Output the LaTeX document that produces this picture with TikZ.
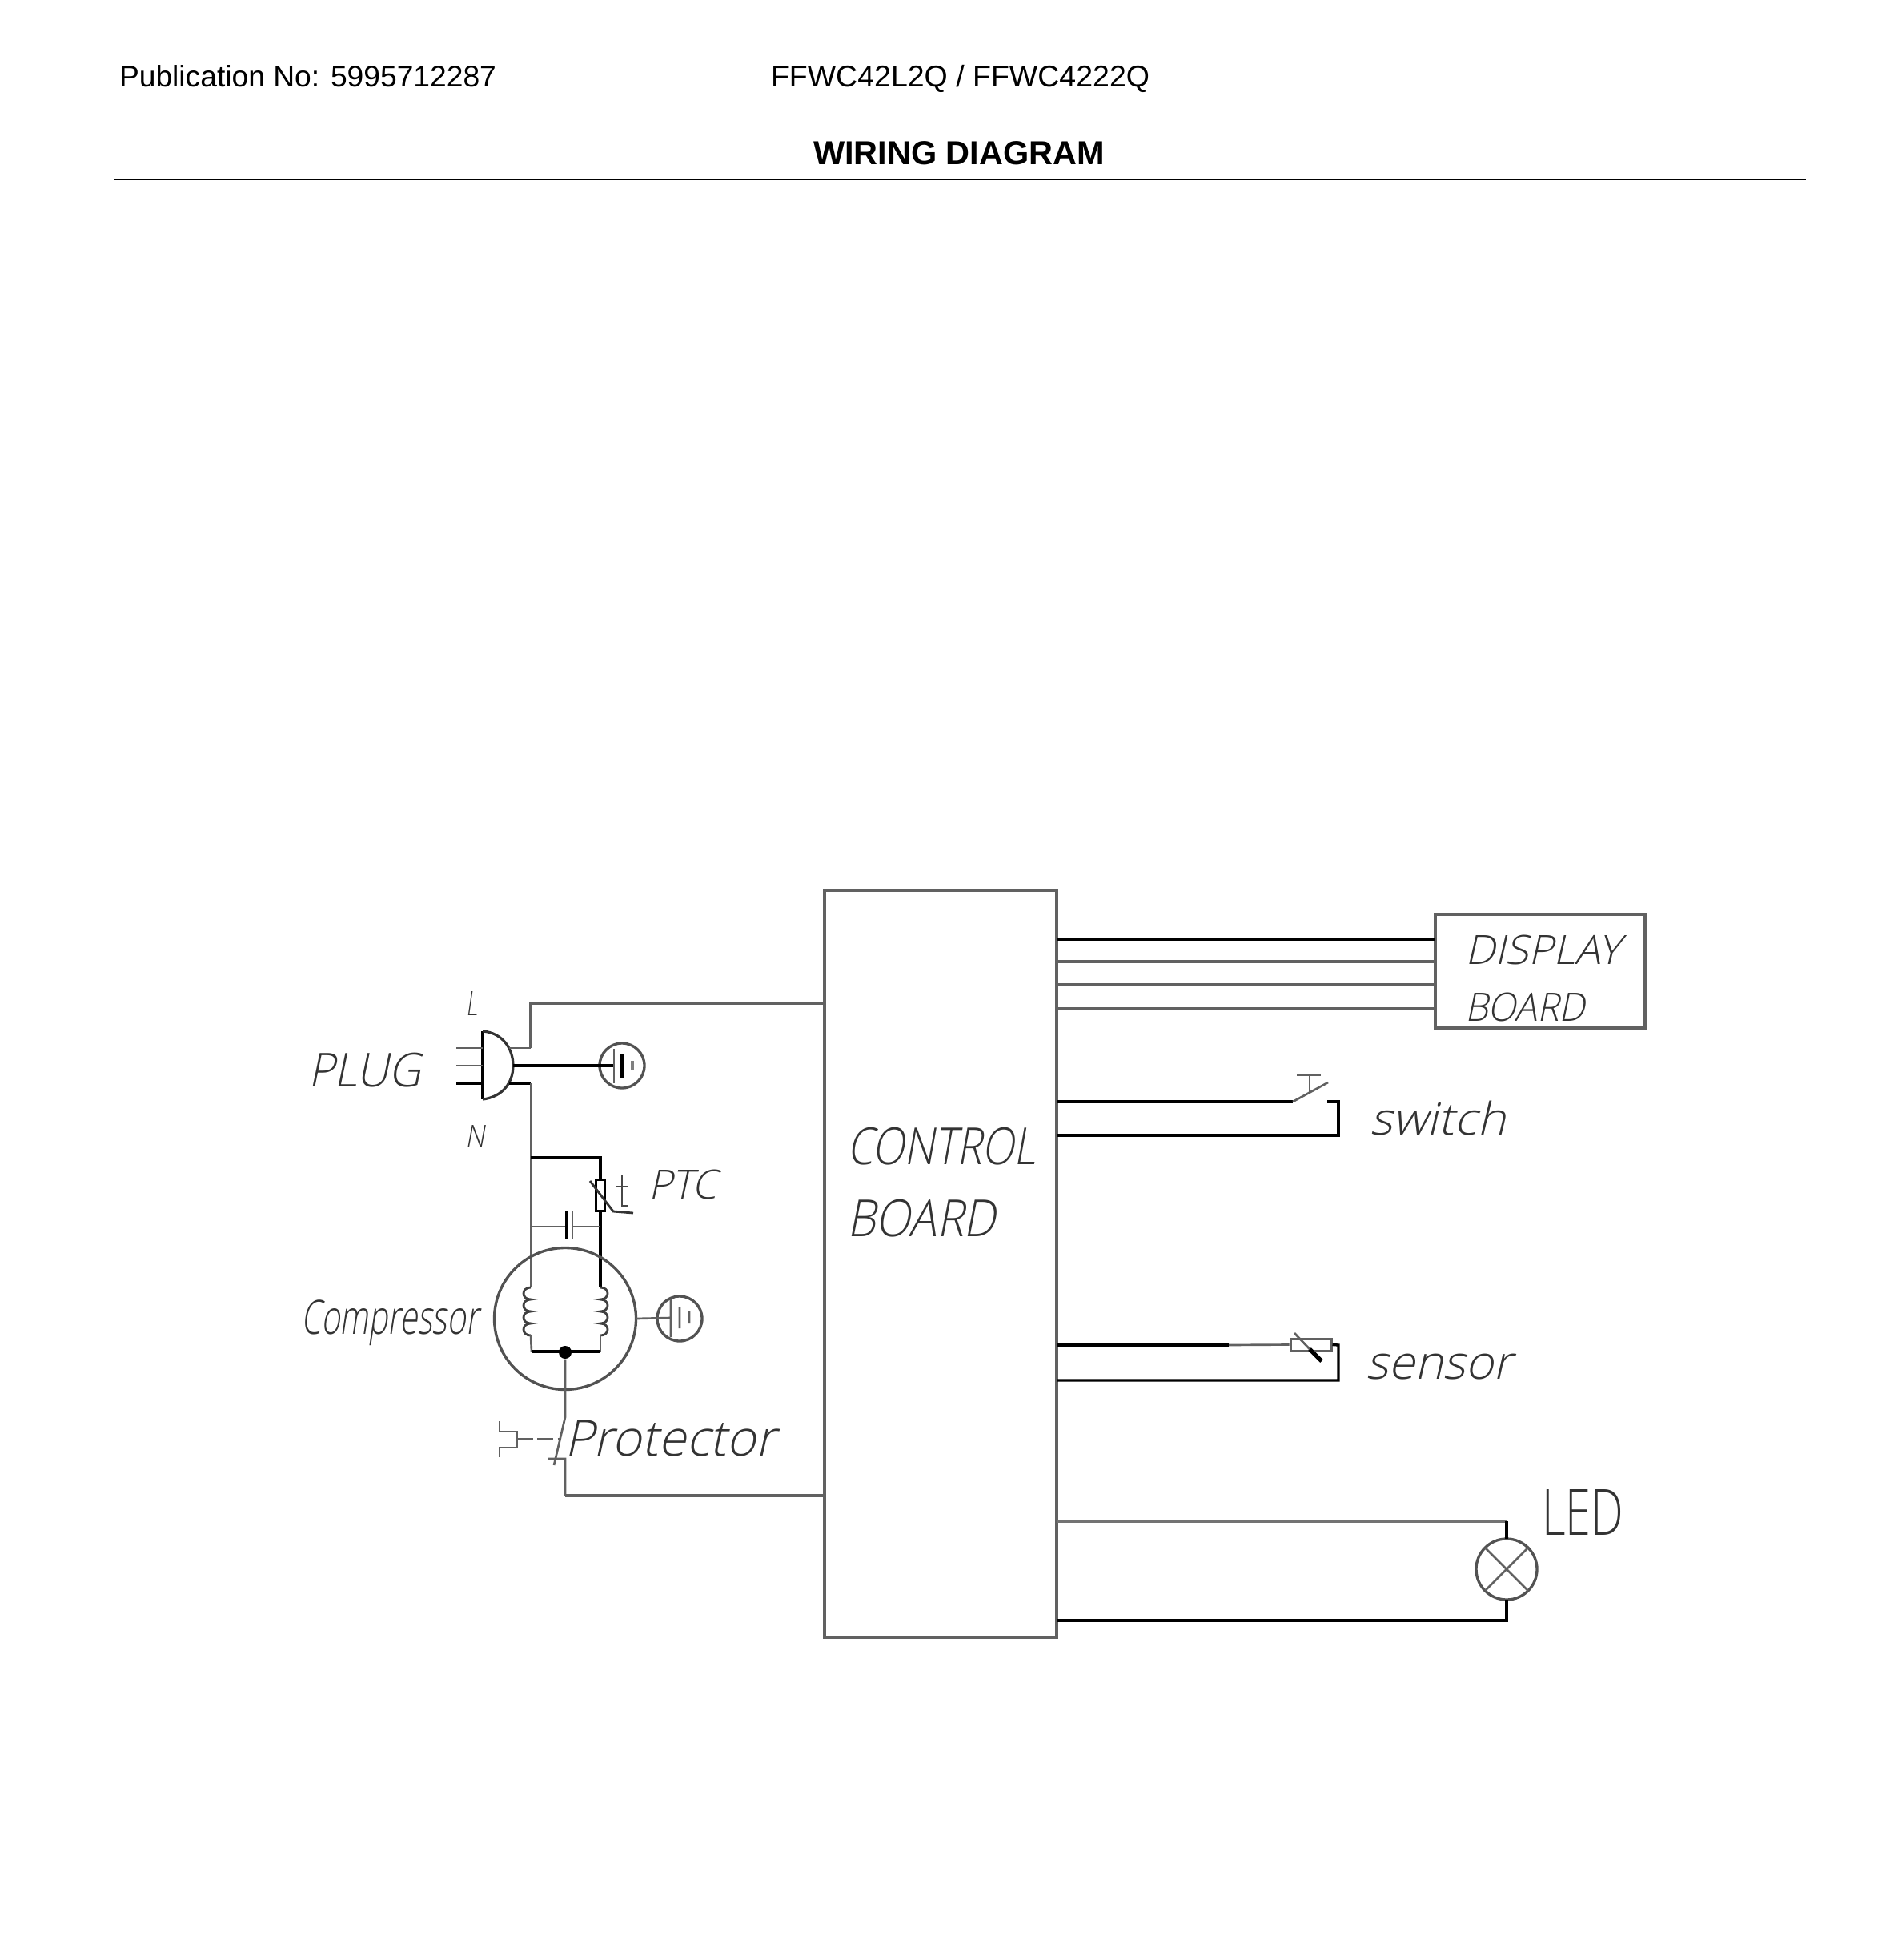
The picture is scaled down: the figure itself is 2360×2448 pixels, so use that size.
\documentclass[tikz,border=0pt]{standalone}
\usepackage{fontspec}
\usepackage{graphicx}
\setmainfont{Liberation Sans}
\newfontfamily\cadslant[FakeSlant=0.22]{Open Sans Light}
\newfontfamily\cadup{Open Sans Light}
% \lab{name}{x0}{y0}{x1}{y1}{font}{text}: real text fitted in a box, in reference pixels
\newcommand{\lab}[7]{%
  \pgfmathsetlengthmacro{\labw}{(#4-#2)*0.3pt}%
  \pgfmathsetlengthmacro{\labh}{(#5-#3)*0.3pt}%
  \node[cadtext] (#1) at (#2,#3) {\resizebox*{\labw}{\labh}{#6{}#7}};}
\newcommand{\head}[6]{%
  \pgfmathsetlengthmacro{\labw}{(#4-#2)*0.3pt}%
  \node[headtext] (#1) at (#2,#3) {\resizebox{\labw}{!}{#5{}#6}};}
\tikzset{
  wire/.style={line width=1pt,black,line join=miter},
  dwire/.style={line width=1.15pt,black!62,line join=miter},
  thin wire/.style={line width=0.8pt,black!62},
  cadtext/.style={anchor=north west,inner sep=0pt,outer sep=0pt,text=black!80},
  headtext/.style={anchor=base west,inner sep=0pt,outer sep=0pt,text=black},
  boxd/.style={draw=black!62,line width=1.15pt,rectangle,inner sep=0pt,outer sep=0pt},
  ring/.style={draw=black!68,line width=1pt,circle,inner sep=0pt,outer sep=0pt,fill=none},
}
\begin{document}
\begin{tikzpicture}[x=0.3pt,y=-0.3pt]
\useasboundingbox (0,0) rectangle (2360,2448);
\fill[white] (0,0) rectangle (2360,2448);
% header
\head{pub}{149}{109}{620}{\normalfont}{Publication No: 5995712287}
\head{model}{963}{109}{1436}{\normalfont}{FFWC42L2Q / FFWC4222Q}
\head{title}{1016}{206}{1380}{\bfseries}{WIRING DIAGRAM}
\coordinate (ruleL) at (142,224);
\coordinate (ruleR) at (2256,224);
\draw[line width=0.55pt,black] (ruleL) -- (ruleR);
% boxes
\node[boxd,minimum width=290*0.3pt,minimum height=933*0.3pt] (cb) at (1175,1578.5) {};
\node[boxd,minimum width=262*0.3pt,minimum height=142*0.3pt] (db) at (1924,1213) {};
% board edge points
\foreach \n/\y in {a/1173,b/1201,c/1230,d/1260}{
  \coordinate (cb\n) at (1320,\y);
  \coordinate (db\n) at (1793,\y);
}
\draw[wire] (cba) -- (dba);
\draw[dwire] (cbb) -- (dbb);
\draw[dwire] (cbc) -- (dbc);
\draw[dwire] (cbd) -- (dbd);
% switch
\coordinate (swA) at (1320,1376);
\coordinate (swB) at (1320,1418);
\coordinate (swC) at (1615,1376);
\coordinate (swD) at (1659,1352);
\coordinate (swE) at (1658,1376);
\coordinate (swF) at (1672,1376);
\coordinate (swG) at (1672,1418);
\draw[wire] (swA) -- (swC);
\draw[thin wire] (swC) -- (swD);
\draw[wire] (swE) -- (swF) -- (swG) -- (swB);
\coordinate (pushT) at (1636,1343);
\coordinate (pushB) at (1636,1364);
\coordinate (pushL) at (1620,1343);
\coordinate (pushR) at (1650,1343);
\draw[thin wire] (pushT) -- (pushB) (pushL) -- (pushR);
% sensor
\coordinate (seA) at (1320,1680);
\coordinate (seB) at (1320,1724);
\coordinate (seM) at (1535,1680);
\coordinate (seG) at (1672,1724);
\coordinate (seH) at (1672,1680);
\node[draw=black!62,line width=0.9pt,rectangle,inner sep=0pt,minimum width=51*0.3pt,minimum height=15*0.3pt] (serr) at (1637.5,1679.5) {};
\draw[wire] (seA) -- (seM);
\draw[thin wire] (seM) -- (serr.west);
\draw[wire] (serr.east) -- (seH) -- (seG) -- (seB);
\coordinate (seD1) at (1617,1665);
\coordinate (seD2) at (1651,1700);
\coordinate (seD3) at (1636,1685);
\draw[thin wire] (seD1) -- (seD3);
\draw[line width=1.5pt,black] (seD3) -- (seD2);
% LED
\node[ring,minimum size=76*0.3pt] (led) at (1882,1960) {};
\draw[thin wire] (led.45) -- (led.225) (led.135) -- (led.315);
\coordinate (leA) at (1320,1900);
\coordinate (leB) at (1882,1900);
\coordinate (leC) at (1320,2024);
\coordinate (leD) at (1882,2024);
\draw[line width=1.4pt,black!55] (leA) -- (leB);
\draw[wire] (leB) -- (led.north);
\draw[wire] (leC) -- (leD) -- (led.south);
% plug
\coordinate (plTop) at (603,1288);
\coordinate (plBot) at (603,1373);
\coordinate (plTip) at (641,1331);
\draw[wire] (plTop) -- (plBot);
\draw[line width=0.95pt,black!80] (plTop) .. controls (628,1290) and (641,1310) .. (plTip) .. controls (641,1352) and (628,1370) .. (plBot);
\coordinate (prA) at (570,1309);
\coordinate (prA2) at (603,1309);
\coordinate (prB) at (570,1331);
\coordinate (prB2) at (603,1331);
\coordinate (prC) at (570,1353);
\coordinate (prC2) at (603,1353);
\draw[thin wire] (prA) -- (prA2) (prB) -- (prB2);
\draw[wire] (prC) -- (prC2);
% L and N wires
\coordinate (cbL) at (1030,1253);
\coordinate (lc) at (663,1253);
\coordinate (lp) at (663,1309);
\coordinate (lq) at (636,1309);
\draw[dwire] (cbL) -- (lc) -- (lp);
\draw[thin wire] (lp) -- (lq);
\coordinate (nq) at (636,1353);
\coordinate (np) at (663,1353);
\coordinate (nj) at (663,1446);
\coordinate (cj) at (663,1532);
\coordinate (ct) at (663,1608);
\draw[wire] (nq) -- (np);
\draw[thin wire] (np) -- (nj) -- (cj) -- (ct);
% plug ground
\node[ring,minimum size=56*0.3pt] (g1) at (777,1331) {};
\coordinate (g1a) at (767,1331);
\coordinate (g1b) at (767,1310);
\coordinate (g1c) at (767,1353);
\coordinate (g1d) at (777,1317);
\coordinate (g1e) at (777,1347);
\coordinate (g1f) at (790,1325);
\coordinate (g1g) at (790,1337);
\draw[wire] (plTip) -- (g1a);
\draw[thin wire] (g1b) -- (g1c);
\draw[wire] (g1d) -- (g1e);
\draw[line width=1.4pt,black!50] (g1f) -- (g1g);
% PTC
\coordinate (pa) at (750,1446);
\node[draw=black,line width=0.9pt,rectangle,inner sep=0pt,minimum width=11*0.3pt,minimum height=39*0.3pt] (ptc) at (750,1492.5) {};
\draw[wire] (nj) -- (pa) -- (ptc.north);
\coordinate (pcj) at (750,1532);
\coordinate (pb) at (750,1608);
\draw[wire] (ptc.south) -- (pcj) -- (pb);
\coordinate (pd1) at (737,1475);
\coordinate (pd2) at (766,1513);
\coordinate (pd3) at (791,1515);
\draw[line width=0.85pt,black!80] (pd1) -- (pd2) -- (pd3);
\coordinate (tT) at (777,1468);
\coordinate (tB) at (777,1506);
\coordinate (tF) at (785,1506);
\coordinate (tL) at (769,1482);
\coordinate (tR) at (785,1482);
\draw[line width=0.85pt,black!72] (tT) -- (tB) -- (tF) (tL) -- (tR);
% capacitor
\coordinate (cp1t) at (708,1513);
\coordinate (cp1b) at (708,1548);
\coordinate (cp1m) at (708,1532);
\coordinate (cp2t) at (715,1513);
\coordinate (cp2b) at (715,1548);
\coordinate (cp2m) at (715,1532);
\draw[thin wire] (cj) -- (cp1m) (cp2m) -- (pcj);
\draw[wire] (cp1t) -- (cp1b);
\draw[thin wire] (cp2t) -- (cp2b);
% compressor
\node[ring,minimum size=177*0.3pt] (comp) at (706,1647) {};
\coordinate (lb) at (663,1668);
\coordinate (rb) at (750,1668);
\coordinate (bl) at (664,1688);
\coordinate (br) at (750,1688);
\draw[line width=0.85pt,black!75] (ct) .. controls (651,1608) and (651,1623) .. (663,1623)
  .. controls (651,1623) and (651,1638) .. (663,1638)
  .. controls (651,1638) and (651,1653) .. (663,1653)
  .. controls (651,1653) and (651,1668) .. (lb);
\draw[line width=0.85pt,black!75] (pb) .. controls (762,1608) and (762,1623) .. (750,1623)
  .. controls (762,1623) and (762,1638) .. (750,1638)
  .. controls (762,1638) and (762,1653) .. (750,1653)
  .. controls (762,1653) and (762,1668) .. (rb);
\draw[thin wire] (lb) -- (bl);
\draw[thin wire] (rb) -- (br);
\draw[wire] (bl) -- (br);
\node[circle,fill=black,inner sep=0pt,minimum size=16*0.3pt] (dot) at (706,1689) {};
% protector
\coordinate (prV) at (706,1770);
\coordinate (prBot) at (692,1830);
\coordinate (prX1) at (685,1822);
\coordinate (prX2) at (706,1822);
\coordinate (prOut) at (706,1868);
\coordinate (cbP) at (1030,1868);
\draw[thin wire] (dot.south) -- (prV) -- (prBot) (prX1) -- (prX2) -- (prOut);
\draw[dwire] (prOut) -- (cbP);
\coordinate (hk1) at (624,1775);
\coordinate (hk2) at (624,1788);
\coordinate (hk3) at (646,1788);
\coordinate (hk4) at (646,1808);
\coordinate (hk5) at (624,1808);
\coordinate (hk6) at (624,1820);
\coordinate (hk7) at (646,1797);
\coordinate (hk8) at (699,1797);
\draw[thin wire] (hk1) -- (hk2) -- (hk3) -- (hk4) -- (hk5) -- (hk6);
\draw[thin wire,dash pattern=on 6pt off 1.6pt] (hk7) -- (hk8);
% compressor ground
\node[ring,minimum size=56*0.3pt] (g2) at (849,1647) {};
\coordinate (g2a) at (838,1646);
\coordinate (g2b) at (838,1622);
\coordinate (g2c) at (838,1670);
\coordinate (g2d) at (849,1633);
\coordinate (g2e) at (849,1659);
\coordinate (g2f) at (861,1638);
\coordinate (g2g) at (861,1653);
\draw[thin wire] (comp.east) -- (g2a) (g2b) -- (g2c) (g2d) -- (g2e) (g2f) -- (g2g);
% labels
\lab{tL}{582}{1238}{596}{1268}{\cadslant}{L}
\lab{tN}{581}{1405}{605}{1433}{\cadslant}{N}
\lab{tPLUG}{385}{1315}{526}{1358}{\cadslant}{PLUG}
\lab{tPTC}{810}{1461}{896}{1498}{\cadslant}{PTC}
\lab{tComp}{376}{1624}{598}{1681}{\cadslant}{Compressor}
\lab{tProt}{705}{1774}{969}{1819}{\cadslant}{Protector}
\lab{tControl}{1058}{1408}{1294}{1455}{\cadslant}{CONTROL}
\lab{tBoard}{1058}{1498}{1244}{1545}{\cadslant}{BOARD}
\lab{tDisp}{1830}{1168}{2024}{1205}{\cadslant}{DISPLAY}
\lab{tDB}{1830}{1240}{1980}{1276}{\cadslant}{BOARD}
\lab{tSw}{1711}{1375}{1881}{1418}{\cadslant}{switch}
\lab{tSe}{1706}{1691}{1889}{1723}{\cadslant}{sensor}
\lab{tLED}{1926}{1860}{2028}{1917}{\cadup}{LED}
\end{tikzpicture}
\end{document}
